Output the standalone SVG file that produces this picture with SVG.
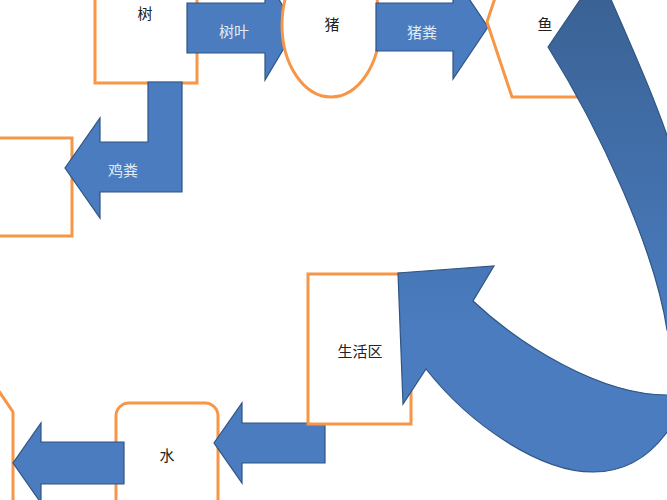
<svg xmlns="http://www.w3.org/2000/svg" width="667" height="500" viewBox="0 0 667 500">
<defs>
<style>
.box{fill:#fff;stroke:#F79646;stroke-width:3}
.arr{fill:#4a7cbf;stroke:#2f5584;stroke-width:1.2;stroke-linejoin:miter}
.lbl{font-family:"Noto Sans CJK SC","Noto Sans",sans-serif;font-size:15px;text-anchor:middle;dominant-baseline:central}
.dark{fill:#222}
.light{fill:#e2eaf4}
</style>
<linearGradient id="cg" gradientUnits="userSpaceOnUse" x1="0" y1="0" x2="0" y2="330">
<stop offset="0" stop-color="#3a6295"/>
<stop offset="1" stop-color="#4a7cbf"/>
</linearGradient>
</defs>
<rect width="667" height="500" fill="#fff"/>

<g id="tree">
<rect class="box" x="95" y="-20" width="102" height="103"/>
<text class="lbl dark" x="145" y="12">树</text>
</g>
<g id="chicken">
<rect class="box" x="-10" y="138" width="82" height="98"/>
</g>
<g id="bottom-left">
<polyline points="-10,378 13,412 13,510" fill="none" stroke="#F79646" stroke-width="3"/>
</g>
<g id="water">
<rect class="box" x="116" y="403" width="102" height="120" rx="13"/>
<text class="lbl dark" x="167" y="454">水</text>
</g>

<g id="connectors">
<path class="arr" d="M187,3 H265 V-24 L296,28 L265,80 V53 H187 Z"/>
<path class="arr" d="M148,82 H182 V192 H100 V218 L65,168 L100,118 V142 H148 Z"/>
<path class="arr" d="M325,423 V463 H242 V483 L214,443 L242,403 V423 Z"/>
<path class="arr" d="M124,442 V484 H41 V503 L13,463 L41,423 V442 Z"/>
</g>

<g id="pig">
<ellipse class="box" cx="331" cy="25" rx="49" ry="72"/>
<text class="lbl dark" x="332" y="23">猪</text>
</g>
<g id="connector-pig">
<path class="arr" d="M376,3 H453 V-25 L488,27 L453,79 V51 H376 Z"/>
<text class="lbl light" x="422" y="31">猪粪</text>
</g>
<g id="leaf-label"><text class="lbl light" x="234" y="30">树叶</text></g>
<g id="chicken-label"><text class="lbl light" x="123" y="169">鸡粪</text></g>

<g id="fish">
<polygon class="box" points="487,22 512,-53 588,-53 613,22 588,97 512,97"/>
<text class="lbl dark" x="545" y="23">鱼</text>
</g>

<g id="living">
<rect class="box" x="308" y="274" width="103" height="150"/>
<text class="lbl dark" x="360" y="350">生活区</text>
</g>

<g id="curved-connector">
<path d="M548,47 L599,-28 C650,90 705,200 700,320 C695,420 650,472 593,472 C540,472 470,425 426,369 L403,404 L398,273 L494,266 L473,301 C520,345 600,395 667,395 C690,392 684,360 667,330 C655,250 600,130 548,47 Z" fill="url(#cg)" stroke="#2f5584" stroke-width="1.2"/>
</g>
</svg>
